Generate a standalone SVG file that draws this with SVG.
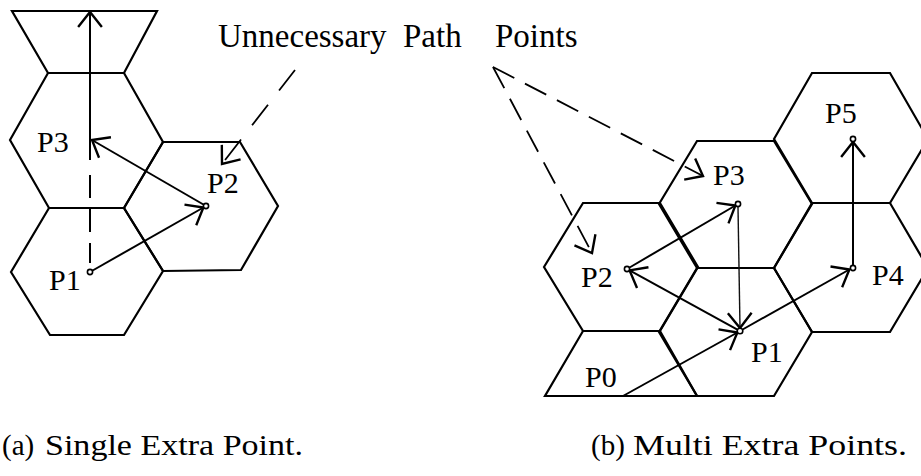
<svg xmlns="http://www.w3.org/2000/svg" width="921" height="476" viewBox="0 0 921 476">
  <style>
    .cell { fill: none; stroke: #000; stroke-width: 2.2; stroke-linejoin: miter; }
    .path { fill: none; stroke: #000; stroke-width: 2; }
    .thin { fill: none; stroke: #111; stroke-width: 1.4; }
    .note { fill: none; stroke: #000; stroke-width: 1.8; }
    .pt { fill: #fff; stroke: #000; stroke-width: 1.6; }
    .lbl { font-family: "Liberation Serif", "Times New Roman", serif; font-size: 30px; fill: #000; }
    .cap { font-family: "Liberation Serif", "Times New Roman", serif; font-size: 29px; fill: #000; }
  </style>
  <defs>
    <marker id="head" markerUnits="userSpaceOnUse" markerWidth="30" markerHeight="30" refX="0" refY="0" viewBox="-16 -12 18 24" orient="auto">
      <path d="M -12 -9.5 L 0 0 L -12 9.5" fill="none" stroke="#000" stroke-width="1.9"/>
    </marker>
  </defs>

  <rect width="921" height="476" fill="#fff"/>

  <!-- (a) single extra point: cells -->
  <g id="a-cells">
    <polygon id="a-top" class="cell" points="12,11 157,11 124,73 48,73"/>
    <polygon id="a-cell-p3" class="cell" points="10,140 48,73 124,73 163,142 124,208 49,208"/>
    <polygon id="a-cell-p1" class="cell" points="11,272 49,208 124,208 163,271 124,335 50,335"/>
    <polygon id="a-cell-p2" class="cell" points="124,208 163,142 240,142 278,206 241,270 163,271"/>
  </g>

  <!-- (a) route connectors -->
  <g id="a-connectors">
    <path class="path" d="M 90 263 V 243 M 90 232 V 208 M 90 198 V 175"/>
    <path class="path" d="M 90 160 V 12" marker-end="url(#head)"/>
    <path class="path" d="M 90 272 L 203.4 207.5" marker-end="url(#head)"/>
    <path class="path" d="M 203.4 204.5 L 92 140" marker-end="url(#head)"/>
    <path class="note" d="M 295 70 L 222 164" stroke-dasharray="26 18" marker-end="url(#head)"/>
  </g>

  <g id="a-points">
    <g id="a-P1"><circle class="pt" cx="90" cy="272" r="2.6"/><text class="lbl" x="49" y="290">P1</text></g>
    <g id="a-P2"><circle class="pt" cx="206" cy="206" r="2.6"/><text class="lbl" x="207" y="193">P2</text></g>
    <g id="a-P3"><text class="lbl" x="37" y="152">P3</text></g>
  </g>

  <!-- shared annotation -->
  <g id="note">
    <text class="lbl" y="47" style="font-size:33px"><tspan x="218">Unnecessary</tspan><tspan x="403">Path</tspan><tspan x="495">Points</tspan></text>
  </g>

  <!-- (b) multi extra points: cells -->
  <g id="b-cells">
    <polygon id="b-cell-p2" class="cell" points="544,267 583,203 660,203 698,267 660,331 583,331"/>
    <polygon id="b-cell-p0" class="cell" points="583,331 660,331 697,396 545,396"/>
    <polygon id="b-cell-p3" class="cell" points="659,204 697,141 774,141 812,204 774,268 697,268"/>
    <polygon id="b-cell-p1" class="cell" points="659,332 697,268 774,268 812,332 774,396 697,396"/>
    <polygon id="b-cell-p5" class="cell" points="774,139 812,73 890,73 928,139 890,203 812,203"/>
    <polygon id="b-cell-p4" class="cell" points="774,268 812,203 890,203 928,268 890,332 812,332"/>
  </g>

  <!-- (b) route connectors -->
  <g id="b-connectors">
    <path class="path" d="M 623 396 L 737.4 332.5" marker-end="url(#head)"/>
    <path class="path" d="M 737.4 329.6 L 629.6 270.4" marker-end="url(#head)"/>
    <path class="path" d="M 629.6 267.5 L 735.4 205.5" marker-end="url(#head)"/>
    <path class="thin" d="M 738 207 L 740 328" marker-end="url(#head)"/>
    <path class="path" d="M 742.6 329.5 L 849.4 269.5" marker-end="url(#head)"/>
    <path class="path" d="M 853 265 L 853 142" marker-end="url(#head)"/>
    <path class="note" d="M 493 67 L 703 176" stroke-dasharray="24 12" marker-end="url(#head)"/>
    <path class="note" d="M 493 67 L 592 253" stroke-dasharray="24 12" marker-end="url(#head)"/>
  </g>

  <g id="b-points">
    <g id="b-P0"><text class="lbl" x="585" y="387">P0</text></g>
    <g id="b-P1"><circle class="pt" cx="740" cy="331" r="2.8"/><text class="lbl" x="751" y="362">P1</text></g>
    <g id="b-P2"><circle class="pt" cx="627" cy="269" r="2.6"/><text class="lbl" x="581" y="287">P2</text></g>
    <g id="b-P3"><circle class="pt" cx="738" cy="204" r="2.6"/><text class="lbl" x="713" y="185">P3</text></g>
    <g id="b-P4"><circle class="pt" cx="853" cy="268" r="2.6"/><text class="lbl" x="872" y="285">P4</text></g>
    <g id="b-P5"><circle class="pt" cx="853" cy="139" r="2.6"/><text class="lbl" x="825" y="123">P5</text></g>
  </g>

  <!-- captions -->
  <g id="captions">
    <text class="cap" x="2" y="455">(a)</text>
    <text class="cap" x="45" y="455" textLength="258" lengthAdjust="spacingAndGlyphs">Single Extra Point.</text>
    <text class="cap" x="591" y="455">(b)</text>
    <text class="cap" x="633" y="455" textLength="274" lengthAdjust="spacingAndGlyphs">Multi Extra Points.</text>
  </g>
</svg>
